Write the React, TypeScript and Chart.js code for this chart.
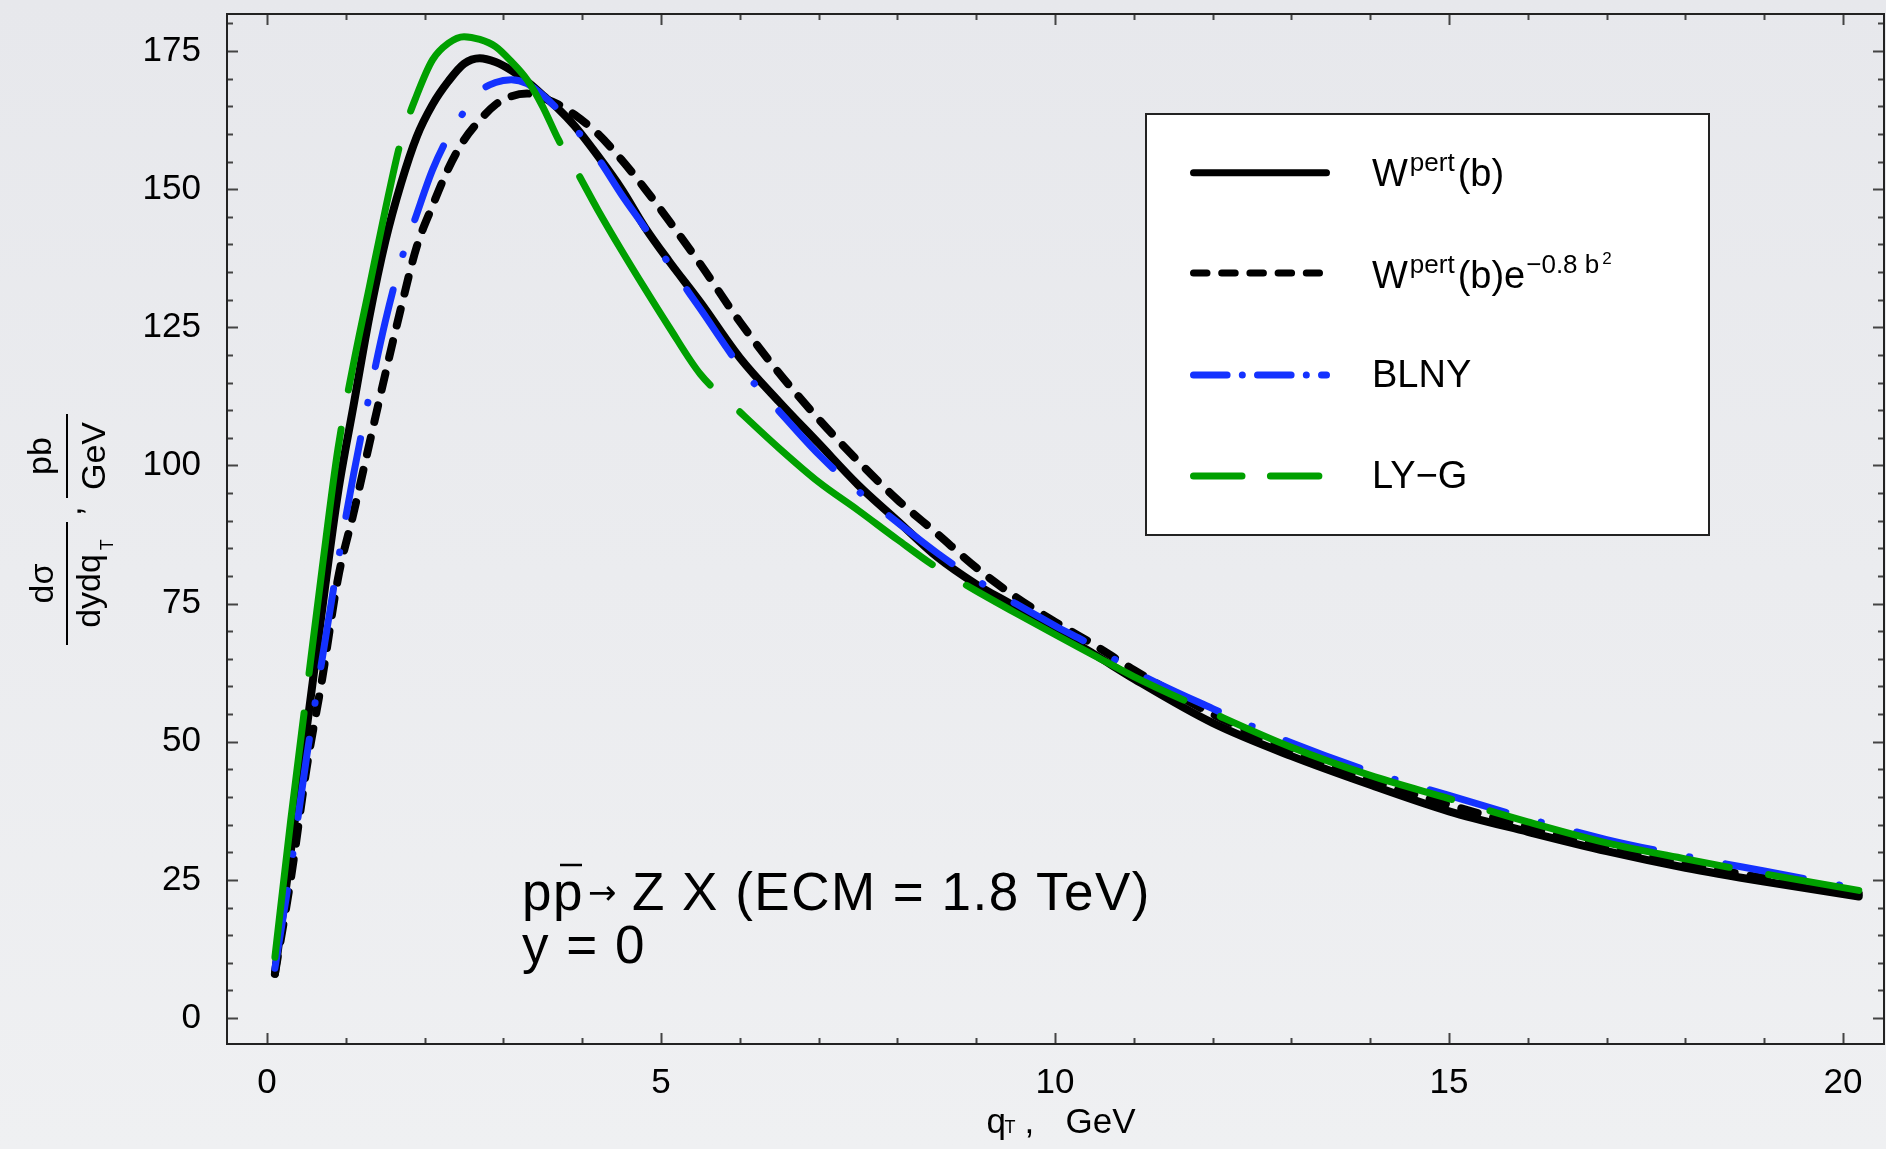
import { useEffect, useRef } from "react";
import { Chart, registerables } from "chart.js";

Chart.register(...registerables);

// ---------------- data ----------------
const qT = [0.1, 0.3, 0.5, 0.7, 0.9, 1.1, 1.3, 1.5, 1.7, 1.9, 2.1, 2.3, 2.5, 2.7, 2.9, 3.1, 3.3, 3.5, 3.7, 3.9, 4.2, 4.5, 4.8, 5.1, 5.5, 6.0, 6.5, 7.0, 7.5, 8.0, 8.5, 9.0, 9.5, 10, 10.5, 11, 12, 13, 14, 15, 16, 17, 18, 19, 20.2];

const wPert = [8, 30, 52, 74, 95, 111, 127, 140.5, 151, 159.5, 165.3, 169.5, 172.7, 173.7, 173, 171.5, 169.5, 167, 164.5, 161.5, 156, 150, 143, 137, 129.5, 119.5, 111.5, 104, 96.5, 90, 83.5, 78.5, 74.4, 70, 65.8, 61.4, 53.4, 47.4, 42.2, 37.4, 33.7, 30.2, 27.2, 24.7, 22];

const wPertGauss = [8, 25, 45, 61.4, 79.5, 91.5, 104, 116.5, 128.5, 139.6, 147, 153.7, 158.9, 162.5, 165.3, 166.8, 167.3, 166.5, 165.3, 163.5, 160, 155.3, 150, 144.3, 136.4, 126, 116.7, 108.4, 100.8, 93.8, 87.7, 81.5, 76.2, 71.7, 67.5, 63, 55, 48.5, 43, 38.6, 34.6, 31.1, 28, 25.3, 22.5];

const blny = [9, 27, 47, 65, 82.5, 98.5, 112.8, 126, 137, 145.5, 153.5, 159.5, 164, 167.7, 169.3, 169.8, 169.1, 167, 164.3, 161.2, 155.6, 149, 142.9, 136.5, 128.3, 118, 109.8, 102, 95.4, 89.7, 84.2, 79.3, 75, 71, 67.2, 62.8, 56, 49.8, 44.6, 40.3, 36.1, 32.3, 29.3, 26.6, 23.4];

const lyG = [11, 35.7, 58.6, 81.4, 103, 118.6, 132.4, 146.2, 158.8, 167, 173.4, 176.4, 177.6, 177.1, 175.8, 173.1, 169.8, 164.9, 158.9, 154, 146.2, 138.9, 131.9, 125.1, 116.5, 109.7, 103.1, 97, 91.9, 86.6, 81.5, 77.3, 73.3, 69.4, 65.6, 61.8, 55.2, 49, 43.9, 39.7, 35.5, 31.7, 28.8, 26.1, 23.1];

const xTickValues = [0, 5, 10, 15, 20];
const yTickValues = [0, 25, 50, 75, 100, 125, 150, 175];
const xMinorStep = 1;
const yMinorStep = 5;

// ---------------- styling ----------------
const FONT = '"Liberation Sans", Arial, Helvetica, sans-serif';
const f = (s: number) => `${s}px ${FONT}`;
const BLUE = "#1432ff";
const GREEN = "#00a000";

const pts = (ys: number[]) => qT.map((x, i) => ({ x, y: ys[i] }));

const bgPlugin = {
  id: "bg",
  beforeDraw(chart: any) {
    const { ctx, width, height } = chart;
    const g = ctx.createLinearGradient(0, 0, 0, height);
    g.addColorStop(0, "#e7e8ec");
    g.addColorStop(1, "#eff0f2");
    ctx.save();
    ctx.fillStyle = g;
    ctx.fillRect(0, 0, width, height);
    ctx.restore();
  },
};

const framePlugin = {
  id: "frame",
  afterDatasetsDraw(chart: any) {
    const { ctx, chartArea: a, scales } = chart;
    const xs = scales.x;
    const ys = scales.y;
    ctx.save();
    ctx.strokeStyle = "#444";
    ctx.lineWidth = 2;
    ctx.beginPath();
    for (let v = Math.ceil(xs.min); v <= xs.max; v += xMinorStep) {
      const px = Math.round(xs.getPixelForValue(v)) + 0.5;
      const len = v % 5 === 0 ? 11 : 6;
      ctx.moveTo(px, a.bottom);
      ctx.lineTo(px, a.bottom - len);
      ctx.moveTo(px, a.top);
      ctx.lineTo(px, a.top + len);
    }
    for (let v = 0; v <= ys.max; v += yMinorStep) {
      const py = Math.round(ys.getPixelForValue(v)) + 0.5;
      const len = v % 25 === 0 ? 11 : 6;
      ctx.moveTo(a.left, py);
      ctx.lineTo(a.left + len, py);
      ctx.moveTo(a.right, py);
      ctx.lineTo(a.right - len, py);
    }
    ctx.stroke();
    ctx.strokeStyle = "#222";
    ctx.lineWidth = 2;
    ctx.strokeRect(a.left, a.top, a.right - a.left, a.bottom - a.top);
    ctx.restore();
  },
};

type Part = { t: string; size: number; dy?: number; dx?: number };
function drawRich(ctx: any, parts: Part[], x: number, baseline: number) {
  let cx = x;
  for (const p of parts) {
    cx += p.dx || 0;
    ctx.font = f(p.size);
    ctx.fillText(p.t, cx, baseline + (p.dy || 0));
    cx += ctx.measureText(p.t).width;
  }
  return cx;
}

const legendPlugin = {
  id: "customLegend",
  afterDraw(chart: any) {
    const ctx = chart.ctx;
    ctx.save();
    const bx = 1146, by = 114, bw = 563, bh = 421;
    ctx.fillStyle = "#ffffff";
    ctx.fillRect(bx, by, bw, bh);
    ctx.strokeStyle = "#222";
    ctx.lineWidth = 2;
    ctx.strokeRect(bx, by, bw, bh);

    const rows = [
      { y: 172.7, color: "#000", dash: [] as number[], x1: 1326.5 },
      { y: 273, color: "#000", dash: [13.5, 14.7], x1: 1319.5 },
      { y: 375, color: BLUE, dash: [33.6, 15.2, 0.01, 15.2], x1: 1326.5 },
      { y: 476, color: GREEN, dash: [48.5, 28.4], x1: 1319.6 },
    ];
    ctx.lineCap = "round";
    ctx.lineWidth = 7;
    for (const r of rows) {
      ctx.strokeStyle = r.color;
      ctx.setLineDash(r.dash);
      ctx.beginPath();
      ctx.moveTo(1193.5, r.y);
      ctx.lineTo(r.x1, r.y);
      ctx.stroke();
    }
    ctx.setLineDash([]);

    ctx.fillStyle = "#000";
    ctx.textAlign = "left";
    ctx.textBaseline = "alphabetic";
    const tx = 1372;
    drawRich(ctx, [
      { t: "W", size: 38 },
      { t: "pert", size: 26, dy: -15, dx: 2 },
      { t: "(b)", size: 38, dx: 3 },
    ], tx, 186);
    drawRich(ctx, [
      { t: "W", size: 38 },
      { t: "pert", size: 26, dy: -15, dx: 2 },
      { t: "(b)e", size: 38, dx: 3 },
      { t: "\u22120.8 b", size: 26, dy: -15, dx: 1 },
      { t: "2", size: 17, dy: -24, dx: 3 },
    ], tx, 288);
    ctx.font = f(38);
    ctx.fillText("BLNY", tx, 387);
    ctx.fillText("LY\u2212G", tx, 488);
    ctx.restore();
  },
};

const textPlugin = {
  id: "texts",
  afterDraw(chart: any) {
    const { ctx, chartArea: a } = chart;
    ctx.save();
    ctx.fillStyle = "#000";
    ctx.strokeStyle = "#000";
    ctx.textAlign = "left";
    ctx.textBaseline = "alphabetic";

    // annotation
    (ctx as any).letterSpacing = "1.5px";
    ctx.font = f(53);
    const x0 = 522;
    const b1 = 910;
    ctx.fillText("p", x0, b1);
    const wp = ctx.measureText("p").width;
    const x2 = x0 + wp;
    ctx.fillText("p", x2, b1);
    ctx.lineWidth = 2.5;
    ctx.beginPath();
    ctx.moveTo(x2 + 7, 865);
    ctx.lineTo(x2 + 29, 865);
    ctx.stroke();
    (ctx as any).letterSpacing = "0px";
    ctx.font = '34px "DejaVu Sans", sans-serif';
    ctx.fillText("\u2192", 588, 904);
    (ctx as any).letterSpacing = "1.5px";
    ctx.font = f(53);
    ctx.fillText("Z X (ECM = 1.8 TeV)", 632, b1);
    ctx.fillText("y = 0", x0, 963);
    (ctx as any).letterSpacing = "0px";

    // x axis title
    const cx = (a.left + a.right) / 2;
    const tb = 1133;
    ctx.font = f(35);
    ctx.fillText("q", cx - 69, tb);
    ctx.font = f(18);
    ctx.fillText("T", cx - 51, tb);
    ctx.font = f(35);
    ctx.fillText(",", cx - 31, tb);
    ctx.fillText("GeV", cx + 10, tb);

    // y axis title (rotated)
    const cy = (a.top + a.bottom) / 2;
    ctx.translate(67, 0);
    ctx.rotate(-Math.PI / 2);
    const c1 = -(cy + 54.5);
    const c2 = -(cy - 73);
    ctx.lineWidth = 2;
    // fraction 1
    ctx.font = f(34);
    ctx.textAlign = "center";
    ctx.fillText("d\u03c3", c1, -14);
    ctx.textAlign = "left";
    const wd = ctx.measureText("dydq").width;
    ctx.font = f(18);
    const wt = ctx.measureText("T").width;
    const s1 = c1 - (wd + 4 + wt) / 2;
    ctx.font = f(34);
    ctx.fillText("dydq", s1, 33);
    ctx.font = f(18);
    ctx.fillText("T", s1 + wd + 4, 46);
    ctx.beginPath();
    ctx.moveTo(c1 - 61.5, 0);
    ctx.lineTo(c1 + 61.5, 0);
    ctx.stroke();
    // comma
    ctx.font = f(34);
    ctx.fillText(",", -(cy - 13), 14);
    // fraction 2
    ctx.textAlign = "center";
    ctx.fillText("pb", c2, -16);
    ctx.fillText("GeV", c2, 38);
    ctx.beginPath();
    ctx.moveTo(c2 - 42, 0);
    ctx.lineTo(c2 + 42, 0);
    ctx.stroke();
    ctx.restore();
  },
};

const common = {
  pointRadius: 0,
  fill: false,
  cubicInterpolationMode: "monotone" as const,
  borderCapStyle: "round" as const,
  borderJoinStyle: "round" as const,
};

export default function App() {
  const ref = useRef<HTMLCanvasElement>(null);
  useEffect(() => {
    const chart = new Chart(ref.current as HTMLCanvasElement, {
      type: "line",
      data: {
        datasets: [
          { ...common, label: "W^pert(b)", data: pts(wPert), borderColor: "#000", borderWidth: 8, order: 2 },
          { ...common, label: "W^pert(b)e^{-0.8b^2}", data: pts(wPertGauss), borderColor: "#000", borderWidth: 8, borderDash: [17, 16], order: 3 },
          { ...common, label: "BLNY", data: pts(blny), borderColor: BLUE, borderWidth: 7, borderDash: [79, 36.5, 0.5, 36.5], order: 1 },
          { ...common, label: "LY-G", data: pts(lyG), borderColor: GREEN, borderWidth: 7, borderDash: [246, 40], order: 0 },
        ],
      },
      options: {
        responsive: false,
        devicePixelRatio: 1,
        animation: false,
        layout: { padding: { left: 0, top: 14, right: 2, bottom: 0 } },
        plugins: { legend: { display: false }, tooltip: { enabled: false } },
        scales: {
          x: {
            type: "linear",
            min: -0.508,
            max: 20.52,
            grid: { display: false, drawTicks: false },
            border: { display: false },
            ticks: { font: { family: FONT, size: 35 }, color: "#000", padding: 18, maxRotation: 0 },
            afterBuildTicks: (s: any) => { s.ticks = xTickValues.map((v) => ({ value: v })); },
            afterFit: (s: any) => { s.height = 105; s.paddingLeft = 0; s.paddingRight = 0; s.paddingTop = 0; s.paddingBottom = 0; },
          },
          y: {
            type: "linear",
            min: -4.7,
            max: 181.7,
            grid: { display: false, drawTicks: false },
            border: { display: false },
            ticks: { font: { family: FONT, size: 35 }, color: "#000", padding: 26 },
            afterBuildTicks: (s: any) => { s.ticks = yTickValues.map((v) => ({ value: v })); },
            afterFit: (s: any) => { s.width = 227; s.paddingTop = 0; s.paddingBottom = 0; s.paddingLeft = 0; s.paddingRight = 0; },
          },
        },
      },
      plugins: [bgPlugin, framePlugin, legendPlugin, textPlugin],
    } as any);
    return () => chart.destroy();
  }, []);
  return (
    <div style={{ position: "fixed", left: 0, top: 0, width: 1886, height: 1149, background: "#eceef0" }}>
      <canvas ref={ref} width={1886} height={1149} style={{ display: "block", width: 1886, height: 1149 }} />
    </div>
  );
}
